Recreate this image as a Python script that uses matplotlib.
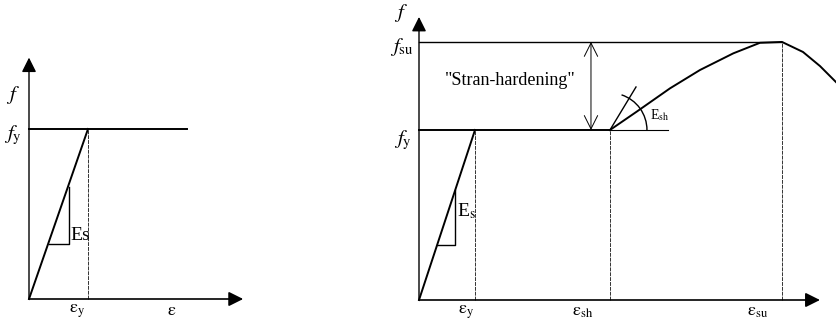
import numpy as np
import matplotlib
matplotlib.use("Agg")
import matplotlib.pyplot as plt
from matplotlib.patches import Arc

plt.rcParams['font.family'] = ['Liberation Serif', 'DejaVu Serif']
plt.rcParams['mathtext.fontset'] = 'stix'

# left sketch: elastic-perfectly plastic (units of eps_y, f_y)
L_eps_y = 1.0
L_f_y = 1.0
L_plateau_end = 2.68
L_x_end = 3.63
L_y_end = 1.42
L_tri_x = [0.339, 0.678, 0.678]
L_tri_y = [0.324, 0.324, 0.659]

# right sketch: with strain hardening
R_eps_y = 1.0
R_eps_sh = 3.41
R_eps_su = 6.48
R_f_y = 1.0
R_f_su = 1.518
R_x_end = 7.16
R_y_end = 1.665
R_fy_ref_end = 4.45
R_tri_x = [0.321, 0.643, 0.643]
R_tri_y = [0.324, 0.324, 0.647]
# strain hardening curve
curve_x = [3.41, 3.888, 4.482, 5.018, 5.613, 6.089, 6.482, 6.857, 7.161, 7.446]
curve_y = [1.0, 1.108, 1.245, 1.353, 1.451, 1.513, 1.518, 1.459, 1.376, 1.282]
tangent_x = [3.41, 3.875]
tangent_y = [1.0, 1.253]

W, H = 836, 320
fig = plt.figure(figsize=(W / 100, H / 100), dpi=100)

lw = 1.4
thin = dict(color='#333333', lw=0.7, ls=(0, (4, 1)))


def axis_arrows(ax, xend, yend):
    ax.annotate('', xy=(xend, 0), xytext=(0, 0),
                arrowprops=dict(arrowstyle='-|>', color='k', lw=1.2, mutation_scale=22,
                                shrinkA=0, shrinkB=0))
    ax.annotate('', xy=(0, yend), xytext=(0, 0),
                arrowprops=dict(arrowstyle='-|>', color='k', lw=1.0, mutation_scale=22,
                                shrinkA=0, shrinkB=0))


# ---- left
ax1 = fig.add_axes([0, 0, 260 / W, 1])
ax1.set_xlim(-29 / 59, 231 / 59)
ax1.set_ylim(-21 / 170, 299 / 170)
ax1.axis('off')
axis_arrows(ax1, L_x_end, L_y_end)
ax1.plot([0, L_eps_y], [0, L_f_y], color='k', lw=lw)
ax1.plot([0, L_plateau_end], [L_f_y, L_f_y], color='k', lw=lw)
ax1.plot([L_eps_y, L_eps_y], [0, L_f_y], **thin)
ax1.plot(L_tri_x, L_tri_y, color='k', lw=1.0)
ax1.text(-0.27, 1.2, '$f$', fontsize=15, ha='center', va='center')
ax1.text(-0.27, 0.96, '$f_{\\mathrm{y}}$', fontsize=15, ha='center', va='center')
ax1.text(0.70, 0.376, 'Es', fontsize=14, ha='left', va='center')
ax1.text(0.81, -0.02, '$\\mathrm{\\varepsilon_y}$', fontsize=13, ha='center', va='top')
ax1.text(2.42, -0.02, '$\\mathrm{\\varepsilon}$', fontsize=13, ha='center', va='top')

# ---- right
ax2 = fig.add_axes([380 / W, 0, 456 / W, 1])
ax2.set_xlim(-39 / 56, 417 / 56)
ax2.set_ylim(-20 / 170, 300 / 170)
ax2.axis('off')
axis_arrows(ax2, R_x_end, R_y_end)
ax2.plot([0, R_eps_y], [0, R_f_y], color='k', lw=lw)
ax2.plot([0, R_eps_sh], [R_f_y, R_f_y], color='k', lw=lw)
ax2.plot([R_eps_sh, R_fy_ref_end], [R_f_y, R_f_y], color='k', lw=0.8)
ax2.plot([0, R_eps_su], [R_f_su, R_f_su], color='k', lw=1.0)
for xv in [R_eps_y, R_eps_sh, R_eps_su]:
    yv = np.interp(xv, curve_x, curve_y) if xv > R_eps_sh else R_f_y
    ax2.plot([xv, xv], [0, yv], **thin)
ax2.plot(curve_x, curve_y, color='k', lw=lw, clip_on=False)
ax2.plot(tangent_x, tangent_y, color='k', lw=1.0)
ax2.plot(R_tri_x, R_tri_y, color='k', lw=1.0)
ax2.add_patch(Arc((R_eps_sh, R_f_y), 2 * 37 / 56, 2 * 37 / 170, theta1=0, theta2=45,
                  color='k', lw=1.0))
ax2.annotate('', xy=(3.071, R_f_su), xytext=(3.071, R_f_y),
             arrowprops=dict(arrowstyle='<->', color='k', lw=0.7, mutation_scale=24,
                             shrinkA=0, shrinkB=0))
ax2.text(1.625, 1.294, '"Stran-hardening"', fontsize=13, ha='center', va='center')
ax2.text(-0.32, 1.69, '$f$', fontsize=15, ha='center', va='center')
ax2.text(-0.31, 1.49, '$f_{\\mathrm{su}}$', fontsize=15, ha='center', va='center')
ax2.text(-0.29, 0.94, '$f_{\\mathrm{y}}$', fontsize=15, ha='center', va='center')
ax2.text(0.68, 0.52, 'E$_\\mathrm{s}$', fontsize=14, ha='left', va='center')
ax2.text(4.12, 1.09, 'E$_\\mathrm{sh}$', fontsize=10, ha='left', va='center')
ax2.text(0.84, -0.02, '$\\mathrm{\\varepsilon_y}$', fontsize=13, ha='center', va='top')
ax2.text(2.93, -0.02, '$\\mathrm{\\varepsilon_{sh}}$', fontsize=13, ha='center', va='top')
ax2.text(6.04, -0.02, '$\\mathrm{\\varepsilon_{su}}$', fontsize=13, ha='center', va='top')

fig.savefig('out.png', dpi=100)
